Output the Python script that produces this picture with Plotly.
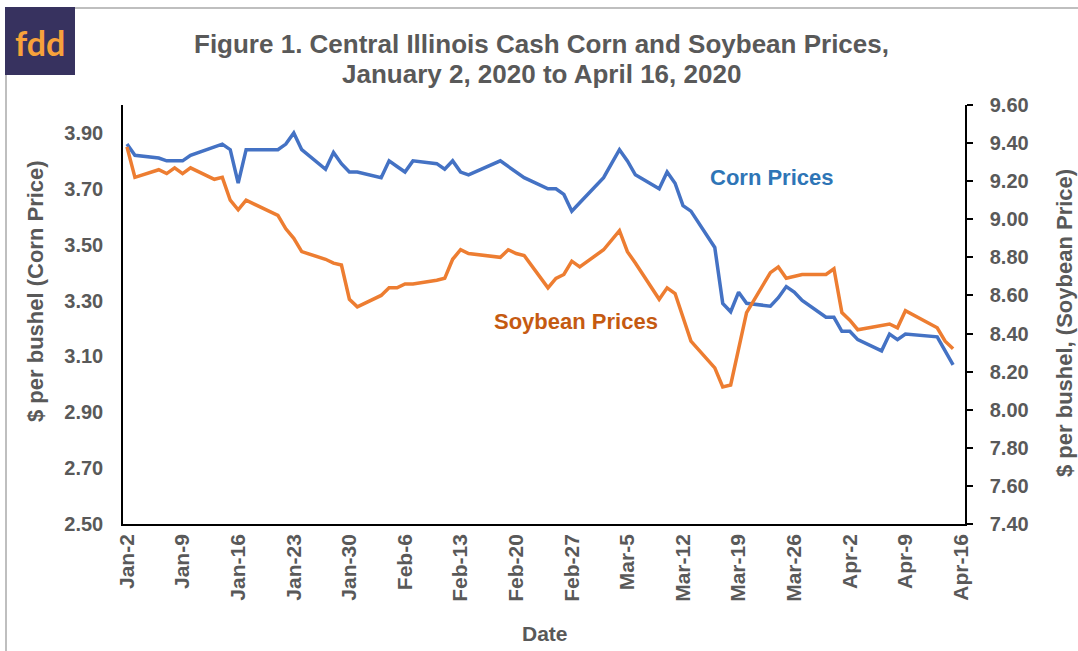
import plotly.graph_objects as go

# ---------------- data ----------------
dates = [
    "2020-01-02", "2020-01-03", "2020-01-06", "2020-01-07", "2020-01-08", "2020-01-09",
    "2020-01-10", "2020-01-13", "2020-01-14", "2020-01-15", "2020-01-16", "2020-01-17",
    "2020-01-21", "2020-01-22", "2020-01-23", "2020-01-24", "2020-01-27", "2020-01-28",
    "2020-01-29", "2020-01-30", "2020-01-31", "2020-02-03", "2020-02-04", "2020-02-05",
    "2020-02-06", "2020-02-07", "2020-02-10", "2020-02-11", "2020-02-12", "2020-02-13",
    "2020-02-14", "2020-02-18", "2020-02-19", "2020-02-20", "2020-02-21", "2020-02-24",
    "2020-02-25", "2020-02-26", "2020-02-27", "2020-02-28", "2020-03-02", "2020-03-03",
    "2020-03-04", "2020-03-05", "2020-03-06", "2020-03-09", "2020-03-10", "2020-03-11",
    "2020-03-12", "2020-03-13", "2020-03-16", "2020-03-17", "2020-03-18", "2020-03-19",
    "2020-03-20", "2020-03-23", "2020-03-24", "2020-03-25", "2020-03-26", "2020-03-27",
    "2020-03-30", "2020-03-31", "2020-04-01", "2020-04-02", "2020-04-03", "2020-04-06",
    "2020-04-07", "2020-04-08", "2020-04-09", "2020-04-13", "2020-04-14", "2020-04-15",
]

corn_prices = [
    3.86, 3.82, 3.81, 3.80, 3.80, 3.80,
    3.82, 3.85, 3.86, 3.84, 3.72, 3.84,
    3.84, 3.86, 3.90, 3.84, 3.77, 3.83,
    3.79, 3.76, 3.76, 3.74, 3.80, 3.78,
    3.76, 3.80, 3.79, 3.77, 3.80, 3.76,
    3.75, 3.80, 3.78, 3.76, 3.74, 3.70,
    3.70, 3.68, 3.62, 3.65, 3.74, 3.79,
    3.84, 3.80, 3.75, 3.70, 3.76, 3.72,
    3.64, 3.62, 3.49, 3.29, 3.26, 3.33,
    3.29, 3.28, 3.31, 3.35, 3.33, 3.30,
    3.24, 3.24, 3.19, 3.19, 3.16, 3.12,
    3.18, 3.16, 3.18, 3.17, 3.12, 3.07,
]

soybean_prices = [
    9.38, 9.22, 9.26, 9.24, 9.27, 9.24,
    9.27, 9.21, 9.22, 9.10, 9.05, 9.10,
    9.02, 8.95, 8.90, 8.83, 8.79, 8.77,
    8.76, 8.58, 8.54, 8.60, 8.64, 8.64,
    8.66, 8.66, 8.68, 8.69, 8.79, 8.84,
    8.82, 8.80, 8.84, 8.82, 8.81, 8.64,
    8.69, 8.71, 8.78, 8.75, 8.84, 8.89,
    8.94, 8.83, 8.77, 8.58, 8.64, 8.61,
    8.49, 8.36, 8.22, 8.12, 8.13, 8.31,
    8.51, 8.72, 8.75, 8.69, 8.70, 8.71,
    8.71, 8.74, 8.51, 8.47, 8.42, 8.44,
    8.45, 8.43, 8.52, 8.43, 8.36, 8.32,
]

tick_dates = [
    "2020-01-02", "2020-01-09", "2020-01-16", "2020-01-23", "2020-01-30", "2020-02-06",
    "2020-02-13", "2020-02-20", "2020-02-27", "2020-03-05", "2020-03-12", "2020-03-19",
    "2020-03-26", "2020-04-02", "2020-04-09", "2020-04-16",
]
tick_labels = [
    "Jan-2", "Jan-9", "Jan-16", "Jan-23", "Jan-30", "Feb-6", "Feb-13", "Feb-20",
    "Feb-27", "Mar-5", "Mar-12", "Mar-19", "Mar-26", "Apr-2", "Apr-9", "Apr-16",
]

# ---------------- layout helpers ----------------
W, H = 1078, 651
PL, PR, PT, PB = 123, 965, 105, 524  # plot area in pixels


def px(x):
    return (x - PL) / (PR - PL)


def py(y):
    return (PB - y) / (PB - PT)


FONT = "Liberation Sans, Arial, sans-serif"
GRAY = "#595959"

fig = go.Figure()
fig.add_trace(go.Scatter(
    x=dates, y=corn_prices, mode="lines", name="Corn Prices",
    line=dict(color="#4472C4", width=3.5), yaxis="y",
))
fig.add_trace(go.Scatter(
    x=dates, y=soybean_prices, mode="lines", name="Soybean Prices",
    line=dict(color="#ED7D31", width=3.5), yaxis="y2",
))

ytickfont = dict(family=FONT, size=20, color=GRAY, weight="bold")
xtickfont = dict(family=FONT, size=21, color=GRAY, weight="bold")

fig.update_layout(
    width=W, height=H,
    margin=dict(l=PL, r=W - PR, t=PT, b=H - PB, pad=0),
    paper_bgcolor="white", plot_bgcolor="white",
    showlegend=False,
    font=dict(family=FONT, color=GRAY),
    xaxis=dict(
        type="date",
        range=["2020-01-01 12:00", "2020-04-16 12:00"],
        tickvals=tick_dates, ticktext=tick_labels, tickangle=-90,
        tickfont=xtickfont, ticks="", showgrid=False, zeroline=False,
        showline=True, linecolor="black", linewidth=1.5,
        ticklabelstandoff=0,
    ),
    yaxis=dict(
        range=[2.5, 4.0], tick0=2.5, dtick=0.2, tickformat=".2f",
        tickfont=ytickfont, ticks="", showgrid=False, zeroline=False,
        showline=True, linecolor="black", linewidth=1.5,
        ticklabelstandoff=14,
    ),
    yaxis2=dict(
        range=[7.4, 9.6], tick0=7.4, dtick=0.2, tickformat=".2f",
        overlaying="y", side="right",
        tickfont=ytickfont, ticks="outside", ticklen=6, tickwidth=1.5, tickcolor="black",
        showgrid=False, zeroline=False,
        showline=True, linecolor="black", linewidth=1.5,
        ticklabelstandoff=13,
    ),
)


def note(x, y, text, size, color=GRAY, angle=0, family=FONT):
    fig.add_annotation(x=px(x), y=py(y), xref="paper", yref="paper", text=text,
                       xanchor="center", yanchor="middle", textangle=angle, showarrow=False,
                       font=dict(family=family, size=size, color=color, weight="bold"))


# title (two lines)
note(541, 44, "Figure 1. Central Illinois Cash Corn and Soybean Prices,", 26)
note(541, 74, "January 2, 2020 to April 16, 2020", 26)

# axis titles
note(35, 291, "$ per bushel (Corn Price)", 22, angle=-90)
note(1064, 323, "$ per bushel, (Soybean Price)", 22, angle=-90)
note(545, 633, "Date", 21)

# series labels
note(772, 177, "Corn Prices", 22, color="#2E75B6")
note(576, 321, "Soybean Prices", 22, color="#C55A11")

# frame lines (top and left)
fig.add_shape(type="line", xref="paper", yref="paper", x0=px(75), x1=px(1078), y0=py(8), y1=py(8),
              line=dict(color="#BFBFBF", width=2))
fig.add_shape(type="line", xref="paper", yref="paper", x0=px(6), x1=px(6), y0=py(75), y1=py(651),
              line=dict(color="#BFBFBF", width=2))

# logo
fig.add_shape(type="rect", xref="paper", yref="paper", x0=px(5), x1=px(75), y0=py(75), y1=py(7),
              fillcolor="#37325F", line=dict(width=0), layer="below")
note(40, 42, "fdd", 34, color="#F7A23B", family="Lato, Open Sans, sans-serif")

fig.write_html("out.html", post_script="document.body.style.margin='0';",
               config={"displayModeBar": False})
